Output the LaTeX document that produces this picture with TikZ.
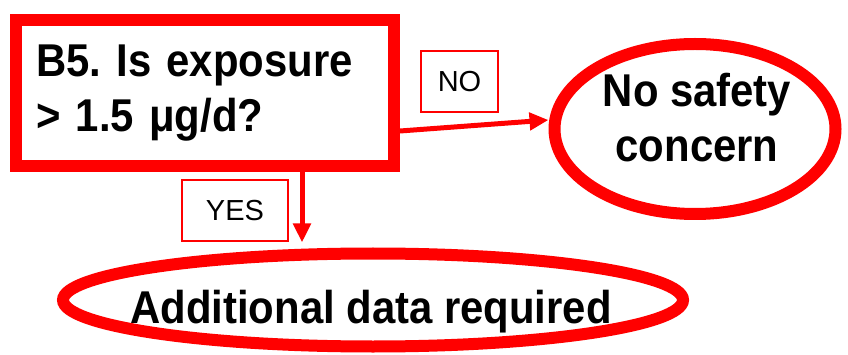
\documentclass[tikz,border=0pt]{standalone}
\usepackage{fontspec}
\setmainfont{Liberation Sans}
\newfontfamily\boxfont[FakeStretch=0.91]{Liberation Sans}
\usetikzlibrary{shapes.geometric,arrows.meta}

\begin{document}
\begin{tikzpicture}[x=1pt,y=-1pt,
  qbox/.style={draw=red, line width=12pt, minimum width=378pt, minimum height=146pt, inner sep=0pt},
  tag/.style={draw=red, line width=1.5pt, inner sep=0pt, font=\fontsize{29}{34}\selectfont},
  oval/.style={ellipse, draw=red, line width=12pt, inner sep=0pt},
  big/.style={font=\boxfont\bfseries\fontsize{46}{55}\selectfont},
  arr/.style={red, line width=5pt, -{Triangle[length=19pt,width=17pt]}}]
\useasboundingbox (0,0) rectangle (848,355);
% question
\node [qbox, big, align=left, text width=338pt] (q) at (205,93) {B5.\ Is exposure\\> 1.5 μg/d?};
% answers
\node [oval, minimum width=281pt, minimum height=170pt] (safe) at (695,129) {};
\node [big, align=center] (safetxt) at (697,118) {No safety\\concern};
\node [oval, minimum width=620pt, minimum height=93pt] (addl) at (373,300) {};
\node [big] (addltxt) at (371,312) {Additional data required};
% branch labels
\node [tag, minimum width=77pt, minimum height=61pt] (no) at (459.5,81.5) {NO};
\node [tag, minimum width=106pt, minimum height=61pt] (yes) at (235,210.5) {YES};
\draw [arr] ([yshift=-38pt]q.east) -- ([yshift=9pt]safe.west);
\draw [arr] ([xshift=97pt]q.south) -- ([xshift=97pt,yshift=5pt]q.south |- addl.north);
\end{tikzpicture}
\end{document}
